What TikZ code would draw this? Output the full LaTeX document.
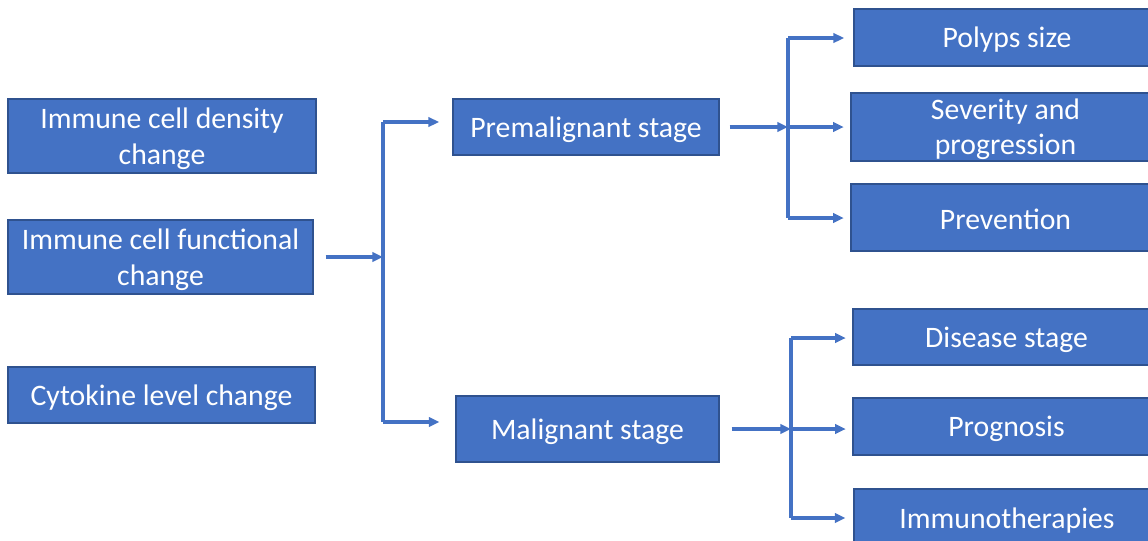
\documentclass[tikz,border=0pt]{standalone}
\usepackage{fontspec}
\setmainfont{Carlito}
\usetikzlibrary{arrows.meta}
\definecolor{boxfill}{HTML}{4472C4}
\definecolor{boxline}{HTML}{2F528F}
\newcommand{\mybox}[6]{%
  \node[box={#3}{#4}] (#1) at #2 {};
  \node[lbl] (#1-t) at ([yshift=#6]#1.center) {#5};}
\begin{document}
\begin{tikzpicture}[x=0.75pt,y=-0.75pt,
  box/.style 2 args={draw=boxline, line width=0.8pt, fill=boxfill,
    inner sep=0pt, minimum width=#1*0.75pt, minimum height=#2*0.75pt},
  lbl/.style={text=white, font=\fontsize{22.3}{26.5}\selectfont, align=center, inner sep=0pt},
  conn/.style={draw=boxfill, line width=2.4pt},
  arr/.style={conn, -{Triangle[length=8pt,width=7pt]}}]
\useasboundingbox (0,0) rectangle (1148,540);

\mybox{dens}{(162,136)}{308}{74}{Immune cell density\\change}{-2pt}
\mybox{func}{(160.5,257)}{305}{74}{Immune cell functional\\change}{-2pt}
\mybox{cyto}{(161.5,395)}{307}{56}{Cytokine level change}{-2pt}

\mybox{pre}{(586,127)}{266}{56}{Premalignant stage}{-2pt}
\mybox{mal}{(587.5,429)}{263}{66}{Malignant stage}{-2pt}

\mybox{polyp}{(1007,37.5)}{306}{57}{Polyps size}{-1.5pt}
\mybox{sev}{(1005.5,127)}{309}{68}{Severity and\\progression}{-1.5pt}
\mybox{prev}{(1005.5,217.5)}{309}{67}{Prevention}{-1.5pt}
\mybox{dis}{(1006.5,337)}{307}{56}{Disease stage}{-2pt}
\mybox{prog}{(1006.5,426.5)}{307}{57}{Prognosis}{-2pt}
\mybox{immu}{(1007,517.5)}{306}{57}{Immunotherapies}{-2pt}

\coordinate (j1) at (383,257);
\coordinate (j1t) at (383,122);
\coordinate (j1b) at (383,422);
\draw[arr, shorten <=9pt] (func.east) -- (j1);
\draw[conn] (j1t) -- (j1b);
\draw[arr, shorten >=10pt] (j1t) -- (j1t -| pre.west);
\draw[arr, shorten >=12pt] (j1b) -- (j1b -| mal.west);

\coordinate (j2) at (788,127);
\coordinate (j2t) at (788,38);
\coordinate (j2b) at (788,218);
\draw[arr, shorten <=7.5pt] (pre.east) -- (j2);
\draw[conn] (j2t) -- (j2b);
\draw[arr, shorten >=7pt] (j2t) -- (j2t -| polyp.west);
\draw[arr, shorten >=5pt] (j2) -- (j2 -| sev.west);
\draw[arr, shorten >=5pt] (j2b) -- (j2b -| prev.west);

\coordinate (j3) at (791,429);
\coordinate (j3t) at (791,338);
\coordinate (j3b) at (791,518);
\draw[arr, shorten <=9pt] (mal.east) -- (j3);
\draw[conn] (j3t) -- (j3b);
\draw[arr, shorten >=5pt] (j3t) -- (j3t -| dis.west);
\draw[arr, shorten >=5pt] (j3) -- (j3 -| prog.west);
\draw[arr, shorten >=6pt] (j3b) -- (j3b -| immu.west);
\end{tikzpicture}
\end{document}
